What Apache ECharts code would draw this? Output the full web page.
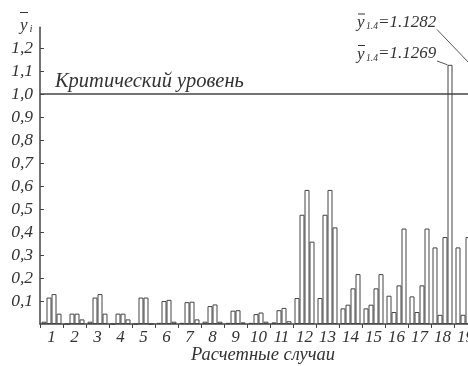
<!DOCTYPE html>
<html><head><meta charset="utf-8">
<script src="https://cdn.jsdelivr.net/npm/echarts@6/dist/echarts.min.js"></script>
<style>html,body{margin:0;padding:0;background:#fff}#c{width:468px;height:366px}</style>
</head><body><div id="c"></div>
<script>
// ---- data ----
const cases = ['1','2','3','4','5','6','7','8','9','10','11','12','13','14','15','16','17','18','19'];
const v1 = [0.01, 0, 0.01, 0, 0, 0.005, 0.005, 0.01, 0.005, 0.005, 0.007, 0.113, 0.113, 0.068, 0.068, 0.123, 0.12, 0.333, 0.333];
const v2 = [0.115, 0.045, 0.115, 0.045, 0.115, 0.1, 0.095, 0.078, 0.058, 0.043, 0.06, 0.475, 0.475, 0.084, 0.084, 0.052, 0.052, 0.04, 0.04];
const v3 = [0.13, 0.045, 0.13, 0.045, 0.115, 0.105, 0.097, 0.085, 0.06, 0.05, 0.07, 0.583, 0.583, 0.155, 0.155, 0.168, 0.168, 0.378, 0.378];
const v4 = [0.045, 0.02, 0.045, 0.02, 0, 0.01, 0.02, 0.01, 0.007, 0.01, 0.012, 0.358, 0.42, 0.217, 0.217, 0.415, 0.415, 1.1269, 1.1282];
const yTickValues = [0.1,0.2,0.3,0.4,0.5,0.6,0.7,0.8,0.9,1.0,1.1,1.2];
const yTickLabels = ['0,1','0,2','0,3','0,4','0,5','0,6','0,7','0,8','0,9','1,0','1,1','1,2'];
const criticalLevel = 1.0;
const criticalLabel = 'Критический уровень';
const xName = 'Расчетные случаи';
const yName = 'y';
const ySub = 'i';
const annotations = [
  {sub:'1.4', text:'=1.1282', caseIndex:18, value:1.1282},
  {sub:'1.4', text:'=1.1269', caseIndex:17, value:1.1269}
];

const FONT = '"Liberation Serif","Times New Roman",serif';
const INK = '#333';
const chart = echarts.init(document.getElementById('c'));
const barStyle = {color:'#fff', borderColor:'#444', borderWidth:1};
function mkBar(d){ return {type:'bar', data:d, barWidth:5, barGap:'0%', itemStyle:barStyle, silent:true}; }

const series = [mkBar(v1), mkBar(v2), mkBar(v3), mkBar(v4)];
series[0].markLine = {
  silent:true, symbol:'none',
  lineStyle:{color:'#444', width:1.5, type:'solid'},
  label:{show:false},
  data:[{yAxis:criticalLevel}]
};

chart.setOption({
  animation:false,
  backgroundColor:'#fff',
  grid:{left:40, top:27.3, right:-9, bottom:42, outerBoundsMode:'none', containLabel:false},
  xAxis:{
    type:'category', data:cases, boundaryGap:true,
    axisLine:{lineStyle:{color:'#444', width:1.5}},
    axisTick:{show:true, length:4, lineStyle:{color:'#444'}},
    axisLabel:{interval:0, fontFamily:FONT, fontStyle:'italic', fontSize:17, color:INK, margin:5},
    name:xName, nameLocation:'middle', nameGap:22, nameMoveOverlap:false,
    nameTextStyle:{fontFamily:FONT, fontStyle:'italic', fontSize:18.5, color:INK, padding:[0,0,0,9]}
  },
  yAxis:{
    type:'value', min:0, max:1.29,
    axisLine:{show:true, lineStyle:{color:'#444', width:1.5}},
    axisTick:{show:true, inside:true, length:4, customValues:yTickValues, lineStyle:{color:'#444'}},
    splitLine:{show:false},
    axisLabel:{customValues:yTickValues, margin:7, fontFamily:FONT, fontStyle:'italic', fontSize:17.5, color:INK,
      formatter:function(v){ const i = yTickValues.findIndex(t=>Math.abs(t-v)<1e-6); return i>=0 ? yTickLabels[i] : ''; }}
  },
  series:series
});

// annotations / labels
const g = [];
g.push({type:'text', x:20, y:26, style:{text:yName, fontFamily:FONT, fontStyle:'italic', fontSize:17, fill:INK, verticalAlign:'middle'}});
g.push({type:'line', shape:{x1:20, y1:12.5, x2:28, y2:12.5}, style:{stroke:INK, lineWidth:1}});
g.push({type:'text', x:29.5, y:29, style:{text:ySub, fontFamily:FONT, fontStyle:'italic', fontSize:11, fill:INK, verticalAlign:'middle'}});
const yCrit = chart.convertToPixel({yAxisIndex:0}, criticalLevel);
g.push({type:'text', x:55, y:yCrit-12, style:{text:criticalLabel, fontFamily:FONT, fontStyle:'italic', fontSize:20.5, fill:INK, verticalAlign:'middle'}});
const textY = [22.5, 54];
annotations.forEach(function(a, k){
  const ty = textY[k];
  g.push({type:'text', x:357, y:ty+0.5, style:{text:'y', fontFamily:FONT, fontStyle:'italic', fontSize:17, fill:INK, verticalAlign:'middle'}});
  g.push({type:'line', shape:{x1:358, y1:ty-8.5, x2:365, y2:ty-8.5}, style:{stroke:INK, lineWidth:1}});
  g.push({type:'text', x:366, y:ty+4, style:{text:a.sub, fontFamily:FONT, fontStyle:'italic', fontSize:9.5, fill:INK, verticalAlign:'middle'}});
  g.push({type:'text', x:378, y:ty, style:{text:a.text, fontFamily:FONT, fontStyle:'italic', fontSize:17, fill:INK, verticalAlign:'middle'}});
  const p = chart.convertToPixel({xAxisIndex:0, yAxisIndex:0}, [a.caseIndex, a.value]);
  g.push({type:'line', shape:{x1:437, y1:ty+7, x2:p[0]+5, y2:p[1]}, style:{stroke:'#555', lineWidth:1}});
});
chart.setOption({graphic:g});
</script></body></html>
